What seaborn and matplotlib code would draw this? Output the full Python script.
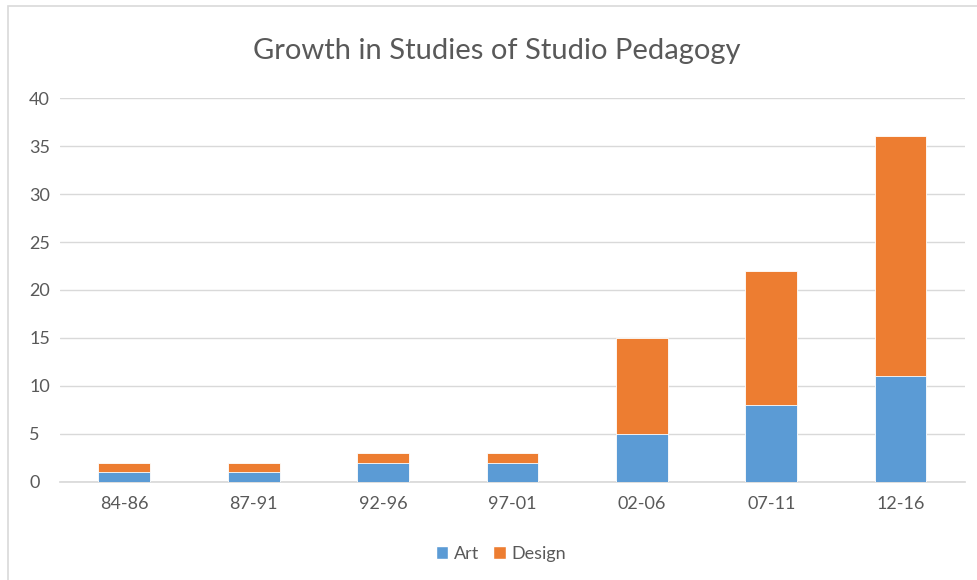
import numpy as np
import pandas as pd
import seaborn as sns
import matplotlib.pyplot as plt
from matplotlib.patches import Patch, Rectangle

# Data
periods = ["84-86", "87-91", "92-96", "97-01", "02-06", "07-11", "12-16"]
art = [1, 1, 2, 2, 5, 8, 11]
design = [1, 1, 1, 1, 10, 14, 25]

ART_COLOR = "#5B9BD5"
DESIGN_COLOR = "#ED7D31"
TEXT_COLOR = "#595959"
GRID_COLOR = "#D9D9D9"

sns.set_theme(style="white")
plt.rcParams["font.family"] = ["Lato", "DejaVu Sans"]

df = pd.DataFrame({"period": periods, "Art": art, "Design": design})
df["total"] = df["Art"] + df["Design"]

fig = plt.figure(figsize=(9.78, 5.8), dpi=100)
ax = fig.add_axes([0.061, 0.169, 0.926, 0.662])

# stacked: draw total (design on top) first, then art over it
sns.barplot(data=df, x="period", y="total", color=DESIGN_COLOR, width=0.4,
            saturation=1, ax=ax, zorder=3, edgecolor="white", linewidth=0.6)
sns.barplot(data=df, x="period", y="Art", color=ART_COLOR, width=0.4,
            saturation=1, ax=ax, zorder=4, edgecolor="white", linewidth=0.6)

ax.set_ylim(0, 40)
ax.set_yticks(range(0, 41, 5))
ax.set_xlim(-0.5, len(periods) - 0.5)
ax.grid(axis="y", color=GRID_COLOR, linewidth=1, zorder=0)
ax.set_axisbelow(True)
for side in ["top", "right", "left"]:
    ax.spines[side].set_visible(False)
ax.spines["bottom"].set_color(GRID_COLOR)
ax.set_xlabel("")
ax.set_ylabel("")
ax.tick_params(axis="both", length=0, labelsize=13, colors=TEXT_COLOR)
ax.tick_params(axis="x", pad=10)
ax.tick_params(axis="y", pad=22)
for lbl in ax.get_yticklabels():
    lbl.set_horizontalalignment("left")

fig.text(0.508, 0.912, "Growth in Studies of Studio Pedagogy", ha="center",
         va="center", fontsize=21, color=TEXT_COLOR)

handles = [Patch(facecolor=ART_COLOR, label="Art"),
           Patch(facecolor=DESIGN_COLOR, label="Design")]
fig.legend(handles=handles, loc="center", bbox_to_anchor=(0.512, 0.045), ncol=2,
           frameon=False, fontsize=13, labelcolor=TEXT_COLOR, handlelength=0.7,
           handleheight=0.7, handletextpad=0.3, columnspacing=0.8)

# chart area border
fig.patches.append(Rectangle((0.008, -0.01), 1.0, 1.0, transform=fig.transFigure,
                             fill=False, edgecolor=GRID_COLOR, linewidth=1.2))

fig.savefig("out.png", dpi=100)
